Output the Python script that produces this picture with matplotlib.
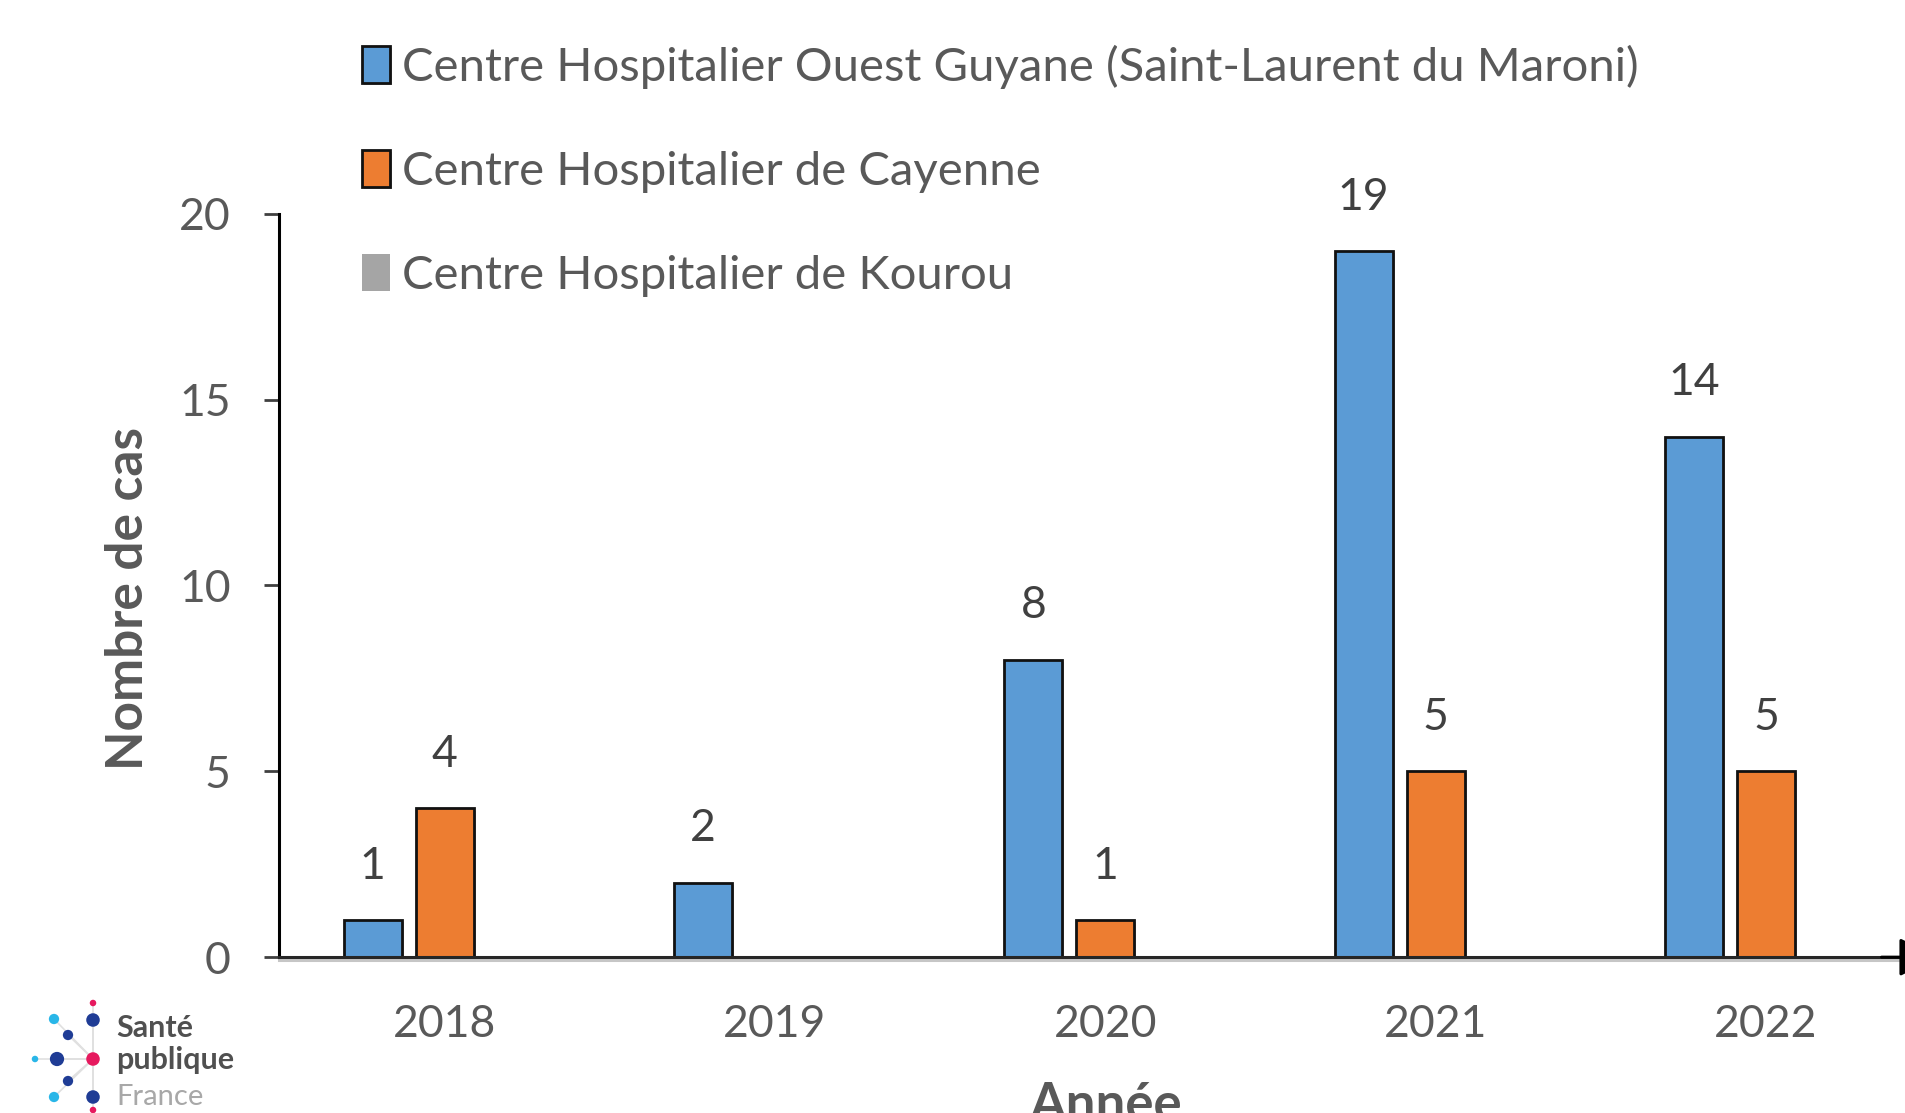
import numpy as np
import matplotlib.pyplot as plt
import matplotlib.patheffects as pe

plt.rcParams['font.family'] = ['Lato', 'DejaVu Sans']

annees = ['2018', '2019', '2020', '2021', '2022']
ouest_guyane = [1, 2, 8, 19, 14]
cayenne = [4, 0, 1, 5, 5]
kourou = [0, 0, 0, 0, 0]
noms = ['Centre Hospitalier Ouest Guyane (Saint-Laurent du Maroni)',
        'Centre Hospitalier de Cayenne',
        'Centre Hospitalier de Kourou']

# logo dots (logo pixel space)
logo_x = [93, 93, 54, 68, 35, 57, 93, 68, 54, 93, 93]
logo_y = [1003, 1020, 1019, 1035, 1059, 1059, 1059, 1081, 1097, 1097, 1110]
logo_c = ['#e6195e', '#1f3c95', '#29b6e8', '#1f3c95', '#29b6e8', '#1f3c95',
          '#e6195e', '#1f3c95', '#29b6e8', '#1f3c95', '#e6195e']
logo_s = [22, 95, 55, 55, 22, 105, 95, 55, 55, 95, 22]

fig = plt.figure(figsize=(19.05, 11.13), dpi=100)
ax = fig.add_axes([0.1467, 0.14, 0.867, 0.668])

shadow = [pe.SimplePatchShadow(offset=(1.5, -1.5), shadow_rgbFace='#808080', alpha=0.5),
          pe.Normal()]

x = np.arange(len(annees))
w = 0.176
off = 0.218
b1 = ax.bar(x - off, ouest_guyane, w, color='#5B9BD5', edgecolor='#111111',
            linewidth=2, label=noms[0], path_effects=shadow)
b2 = ax.bar(x, cayenne, w, color='#ED7D31', edgecolor='#111111',
            linewidth=2, label=noms[1], path_effects=shadow)
b3 = ax.bar(x + off, kourou, w, color='#A5A5A5', linewidth=0, label=noms[2])

for bars, vals in [(b1, ouest_guyane), (b2, cayenne)]:
    ax.bar_label(bars, labels=[str(v) if v else '' for v in vals],
                 padding=24, fontsize=32, color='#404040')

ax.set_xlim(-0.5, 4.5)
ax.set_ylim(0, 20)
ax.set_yticks([0, 5, 10, 15, 20])
ax.set_xticks(x)
ax.set_xticklabels(annees)
ax.tick_params(axis='x', length=0, pad=34, labelsize=32, labelcolor='#595959')
ax.tick_params(axis='y', length=11, width=2, pad=24, labelsize=32,
               labelcolor='#595959', color='#404040')

for s in ['top', 'right']:
    ax.spines[s].set_visible(False)
ax.spines['left'].set_linewidth(2.2)
ax.spines['left'].set_color('black')
ax.spines['bottom'].set_linewidth(2.2)
ax.spines['bottom'].set_color('#262626')
ax.spines['bottom'].set_path_effects([pe.SimpleLineShadow(offset=(0, -2), shadow_color='#a0a0a0', alpha=0.6),
                                      pe.Normal()])
ax.annotate('', xy=(1.004, 0), xytext=(0.97, 0), xycoords='axes fraction',
            arrowprops=dict(arrowstyle='-|>', color='black', lw=2.2,
                            mutation_scale=60, shrinkA=0, shrinkB=0),
            annotation_clip=False)

ax.set_ylabel('Nombre de cas', fontsize=37, fontweight='bold', color='#595959')
ax.yaxis.set_label_coords(-0.0917, 0.483)
ax.yaxis.label.set_va('center')
ax.set_xlabel('Année', fontsize=38, fontweight='bold', color='#595959')
ax.xaxis.set_label_coords(0.5, -0.2)
ax.xaxis.label.set_va('center')

fig.legend(loc='upper left', bbox_to_anchor=(0.19, 0.960), frameon=False,
           fontsize=34, labelcolor='#595959', borderpad=0, borderaxespad=0,
           labelspacing=1.29, handlelength=0.6, handleheight=0.85,
           handletextpad=0.25)

# logo Santé publique France
lax = fig.add_axes([0, 0, 1, 1], zorder=-1)
lax.set_xlim(0, 1905)
lax.set_ylim(1113, 0)
lax.axis('off')
cx, cy = 93, 1059
for px, py in zip(logo_x, logo_y):
    lax.plot([cx, px], [cy, py], color='#e0e0e0', lw=1.2, zorder=1)
lax.scatter(logo_x, logo_y, s=logo_s, c=logo_c, zorder=2, linewidths=0)
lax.text(116, 1028, 'Santé', fontsize=22, fontweight='bold', color='#505050', va='center')
lax.text(116, 1060, 'publique', fontsize=22, fontweight='bold', color='#505050', va='center')
lax.text(116, 1097, 'France', fontsize=21, color='#a8a8a8', va='center')

fig.savefig('out.png', dpi=100)
